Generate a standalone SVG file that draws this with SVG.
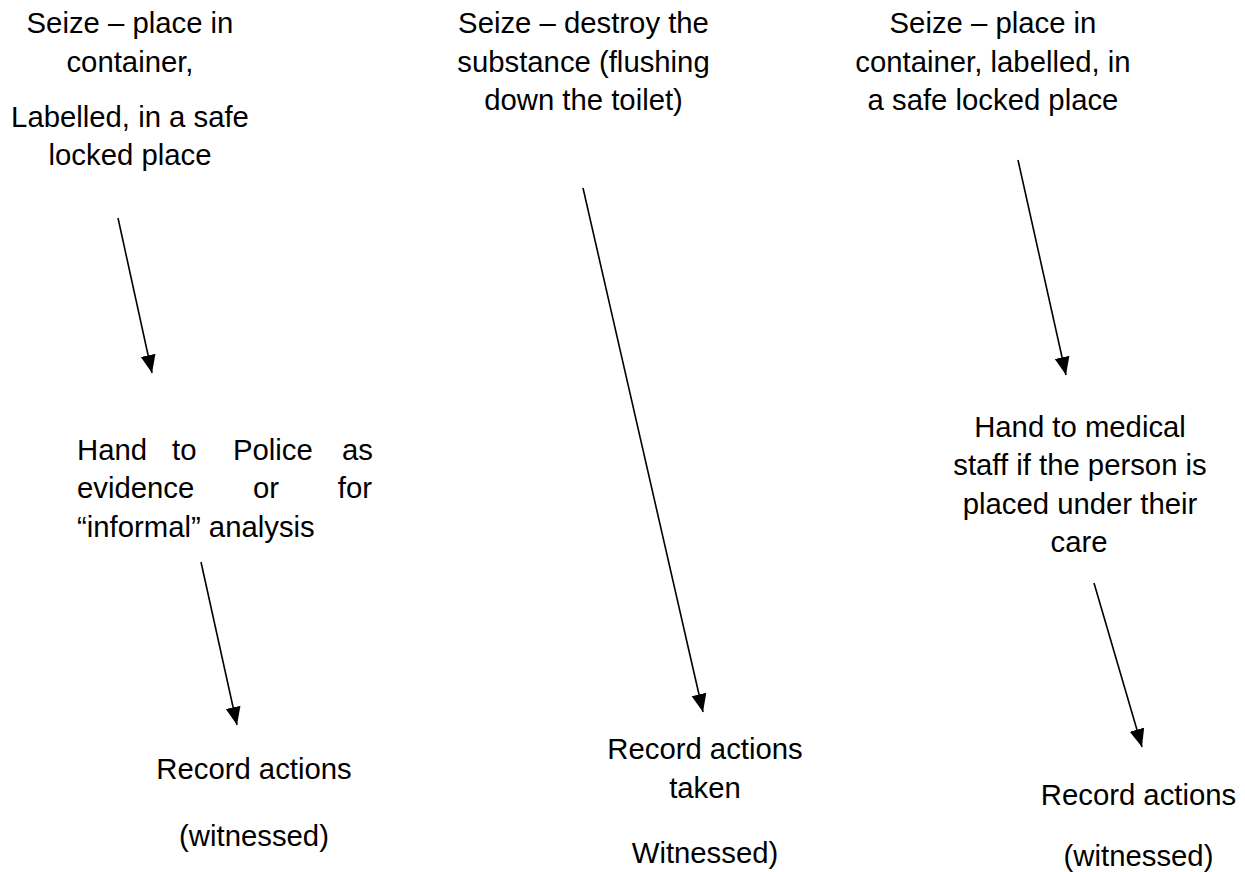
<svg xmlns="http://www.w3.org/2000/svg" width="1245" height="872" viewBox="0 0 1245 872">
<style>
text{font-family:"Liberation Sans",Arial,sans-serif;font-size:29.3px;fill:#000}
.c{text-anchor:middle}
.e{text-anchor:end}
.conn line{stroke:#000;stroke-width:1.6;fill:none}
</style>
<defs>
<marker id="arr" markerUnits="userSpaceOnUse" markerWidth="20" markerHeight="16" refX="18" refY="7.5" orient="auto">
<path d="M0,0 L18,7.5 L0,15 z" fill="#000"/>
</marker>
</defs>
<rect width="1245" height="872" fill="#fff"/>
<g id="n1">
<text class="c" x="130" y="33">Seize – place in</text>
<text class="c" x="130" y="71.5">container,</text>
<text class="c" x="130" y="127">Labelled, in a safe</text>
<text class="c" x="130" y="165">locked place</text>
</g>
<g id="n2">
<text x="77" y="460">Hand</text>
<text x="172" y="460">to</text>
<text x="233" y="460">Police</text>
<text class="e" x="373" y="460">as</text>
<text x="77" y="498">evidence</text>
<text class="c" x="266" y="498">or</text>
<text class="e" x="372" y="498">for</text>
<text x="77" y="537">“informal” analysis</text>
</g>
<g id="n3">
<text class="c" x="254" y="779">Record actions</text>
<text class="c" x="254" y="846">(witnessed)</text>
</g>
<g id="n4">
<text class="c" x="583.5" y="33">Seize – destroy the</text>
<text class="c" x="583.5" y="72">substance (flushing</text>
<text class="c" x="583.5" y="110">down the toilet)</text>
</g>
<g id="n5">
<text class="c" x="705" y="759">Record actions</text>
<text class="c" x="705" y="798">taken</text>
<text class="c" x="705" y="863">Witnessed)</text>
</g>
<g id="n6">
<text class="c" x="993" y="33">Seize – place in</text>
<text class="c" x="993" y="72">container, labelled, in</text>
<text class="c" x="993" y="110">a safe locked place</text>
</g>
<g id="n7">
<text class="c" x="1080" y="437">Hand to medical</text>
<text class="c" x="1080" y="475">staff if the person is</text>
<text class="c" x="1080" y="514">placed under their</text>
<text class="c" x="1079" y="552">care</text>
</g>
<g id="n8">
<text class="c" x="1138.5" y="805">Record actions</text>
<text class="c" x="1138.5" y="866">(witnessed)</text>
</g>
<g class="conn" id="connectors">
<line x1="118" y1="218" x2="152" y2="373" marker-end="url(#arr)"/>
<line x1="201" y1="562" x2="237" y2="725" marker-end="url(#arr)"/>
<line x1="583" y1="188" x2="703" y2="712" marker-end="url(#arr)"/>
<line x1="1018" y1="160" x2="1066" y2="375" marker-end="url(#arr)"/>
<line x1="1094" y1="583" x2="1142" y2="747" marker-end="url(#arr)"/>
</g>
</svg>
